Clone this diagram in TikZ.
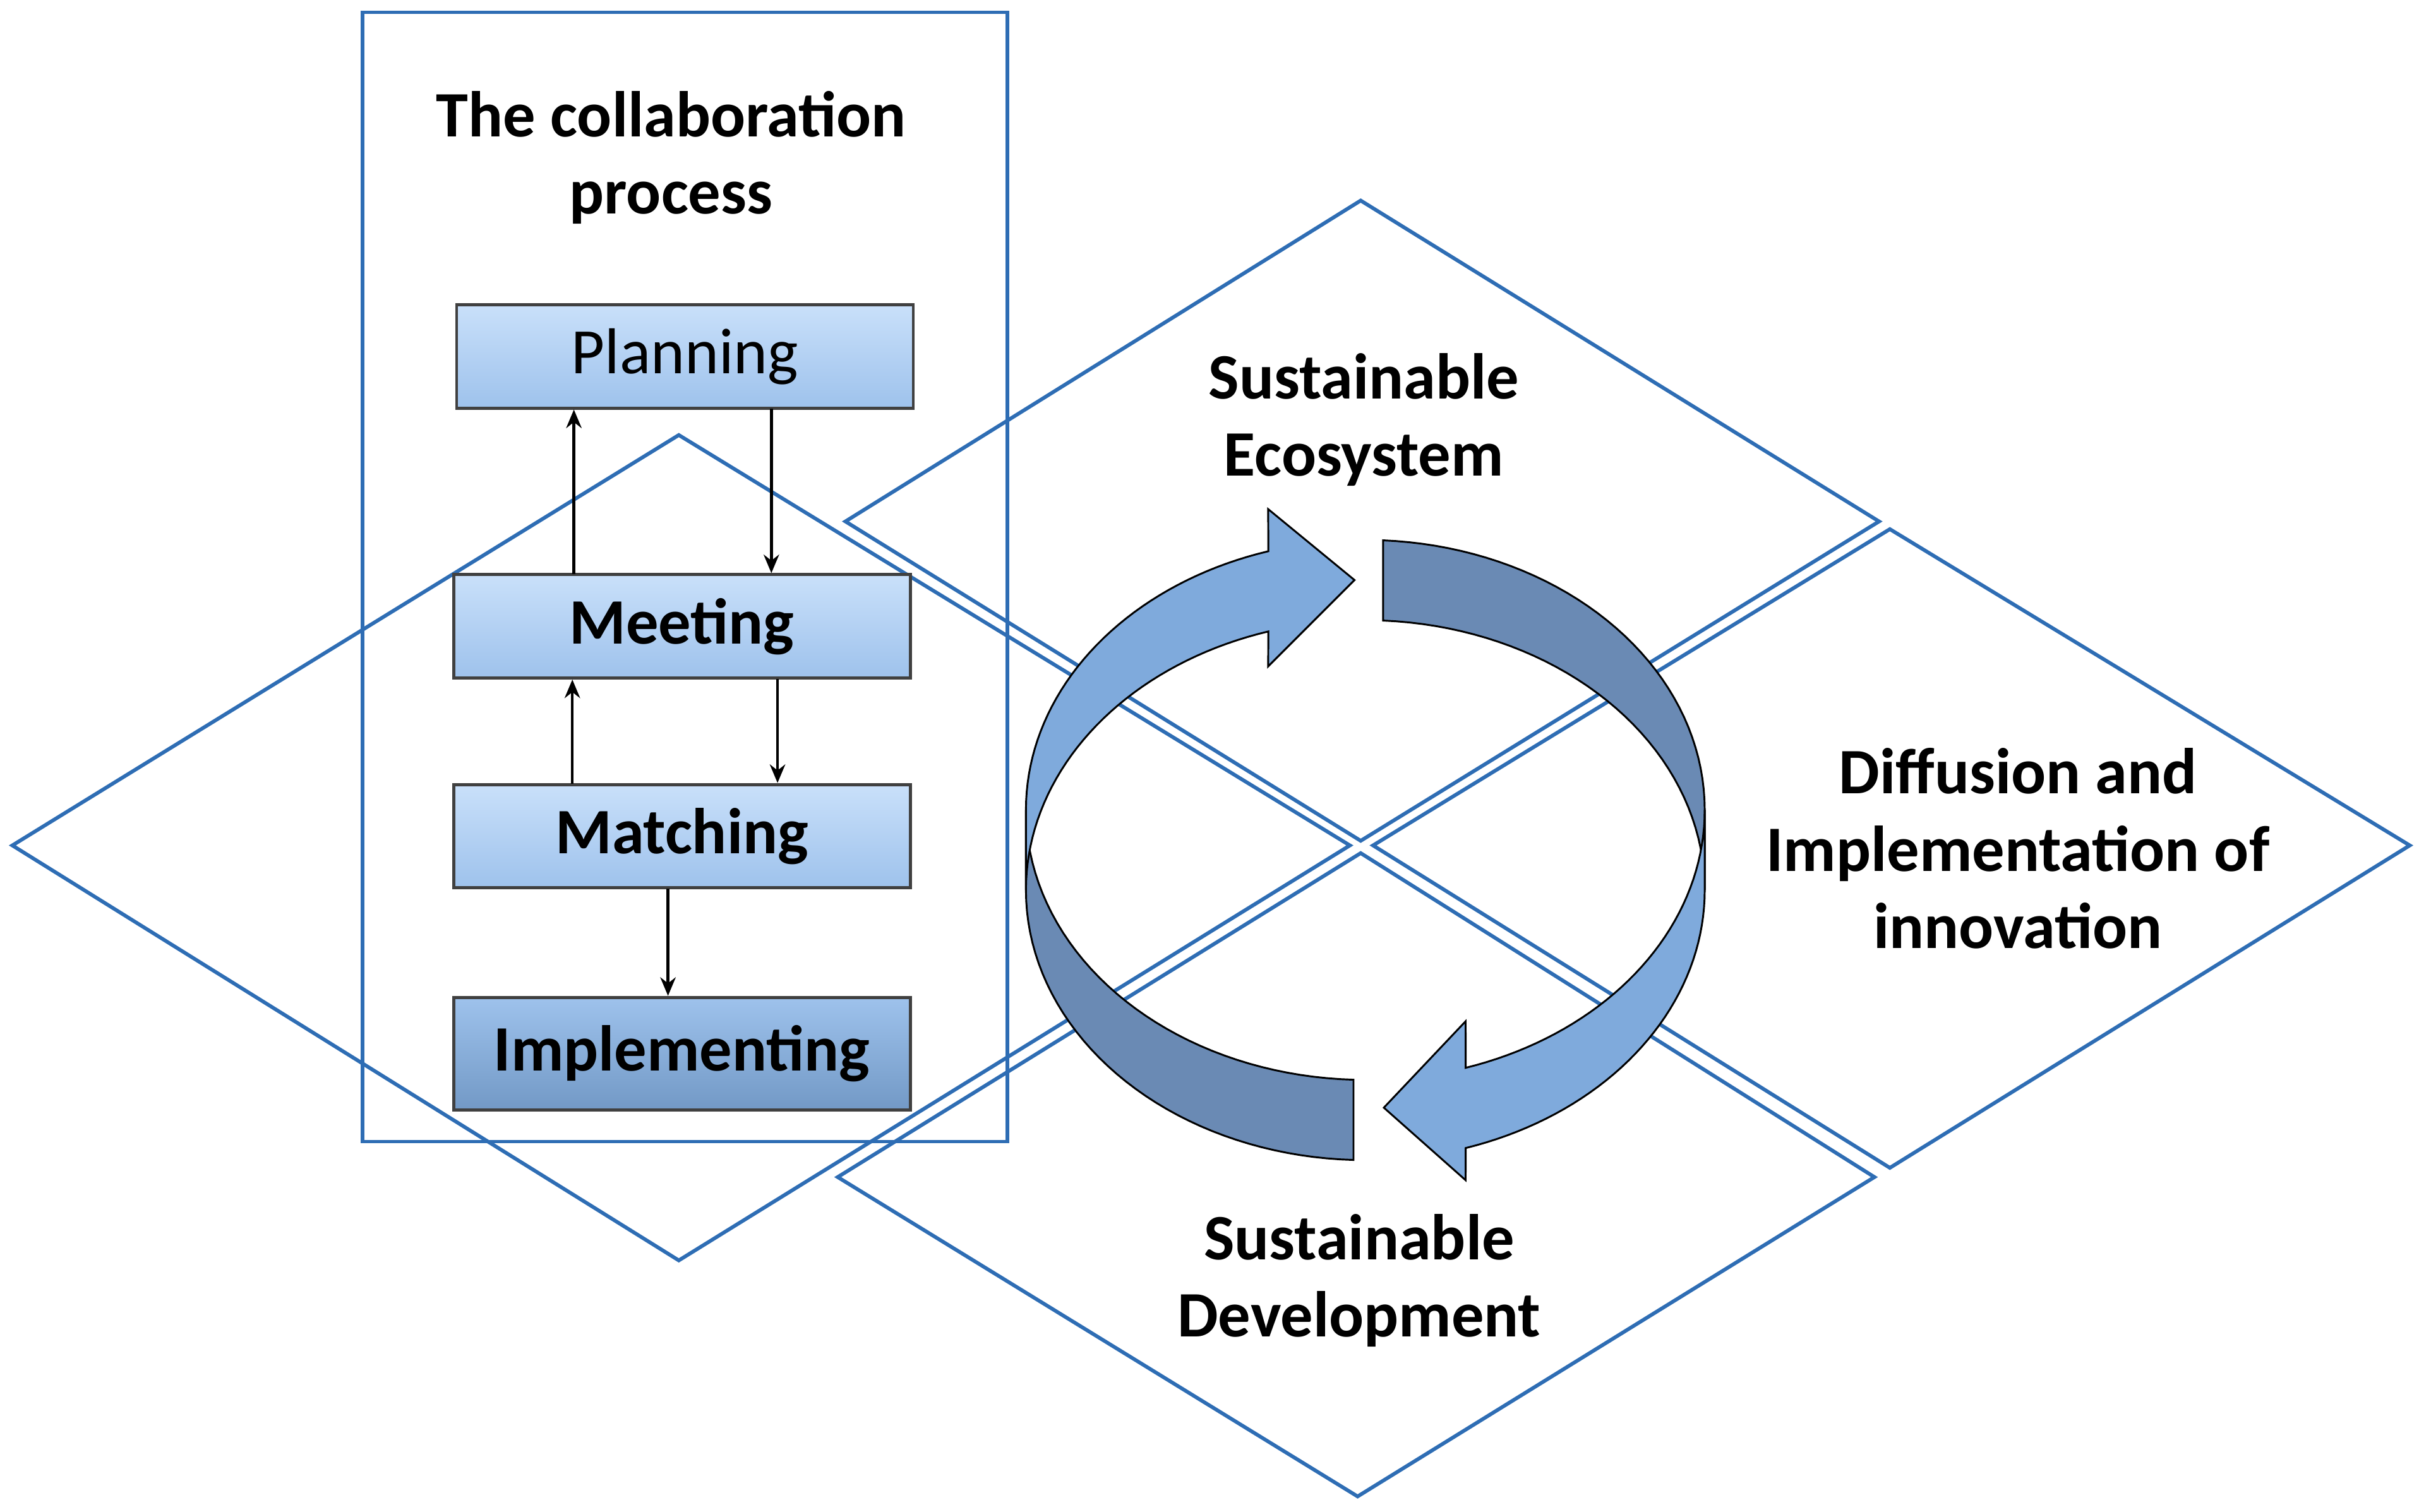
\documentclass[tikz,border=0pt]{standalone}
\usepackage{fontspec}
\setmainfont{Carlito}
\usetikzlibrary{calc,arrows.meta}
\definecolor{dline}{HTML}{2E6DB4}
\definecolor{lightarr}{HTML}{7FAADC}
\definecolor{darkband}{HTML}{6A8AB4}
\definecolor{boxtop}{HTML}{C9E0FA}
\definecolor{boxbot}{HTML}{9EC2EC}
\tikzset{
 dia/.style={draw=dline,line width=1.2pt},
 pbox/.style={draw=black!75,line width=1pt,top color=boxtop,bottom color=boxbot,minimum width=148pt,minimum height=33.5pt,font=\fontsize{21}{24}\selectfont,inner sep=0pt},
 bbox/.style={pbox,font=\bfseries\fontsize{21}{24}\selectfont},
 lab/.style={font=\bfseries\fontsize{21}{25}\selectfont,align=center},
 parr/.style={-{Stealth[length=6pt,width=5pt]},line width=0.9pt},
 ribbon/.style={draw=black,line width=0.6pt}
}
\begin{document}
\begin{tikzpicture}[x=0.5pt,y=-0.5pt]
\useasboundingbox (0,0) rectangle (1568,980);
% diamonds
\draw[dia] (8,548) -- (440,282) -- (875,548) -- (440,817) -- cycle;
\draw[dia] (548,338) -- (882,130) -- (1218,338) -- (882,545) -- cycle;
\draw[dia] (890,548) -- (1225,343) -- (1562,548) -- (1225,757) -- cycle;
\draw[dia] (543,763) -- (882,553) -- (1215,763) -- (880,970) -- cycle;
% frame
\draw[dia] (235,8) rectangle (653,740);
\node[lab] (title) at (435,102) {The collaboration\\process};
% boxes
\node[pbox] (p) at (444,231) {Planning};
\node[bbox] (m) at (442,406) {Meeting};
\node[bbox] (a) at (442,542) {Matching};
\node[bbox,minimum height=36.5pt,top color=boxbot,bottom color=lightarr!90!black] (i) at (442,683) {Implementing};
\coordinate (c1) at (372,372);
\coordinate (c2) at (500,265);
\coordinate (c3) at (371,508);
\coordinate (c4) at (504,440);
\coordinate (c5) at (433,576);
\draw[parr] (c1) -- (c1 |- p.south);
\draw[parr] (c2) -- (c2 |- m.north);
\draw[parr] (c3) -- (c3 |- m.south);
\draw[parr] (c4) -- (c4 |- a.north);
\draw[parr] (c5) -- (c5 |- i.north);
% cycle ribbon
\fill[darkband,ribbon] plot[domain=87:0,samples=40] ({885+220*cos(\x)},{525-175*sin(\x)}) -- plot[domain=0:87,samples=40] ({885+220*cos(\x)},{577-175*sin(\x)}) -- cycle;
\fill[darkband,ribbon] plot[domain=268:180,samples=40] ({885+220*cos(\x)},{525-175*sin(\x)}) -- plot[domain=180:268,samples=40] ({885+220*cos(\x)},{577-175*sin(\x)}) -- cycle;
\fill[lightarr,ribbon] plot[domain=180:106.6,samples=40] ({885+220*cos(\x)},{525-175*sin(\x)}) -- (822,330) -- (878,376) -- (822,432) -- plot[domain=106.6:180,samples=40] ({885+220*cos(\x)},{577-175*sin(\x)}) -- cycle;
\fill[lightarr,ribbon] plot[domain=0:-72.8,samples=40] ({885+220*cos(\x)},{525-175*sin(\x)}) -- (950,662) -- (897,718) -- (950,765) -- plot[domain=-72.8:0,samples=40] ({885+220*cos(\x)},{577-175*sin(\x)}) -- cycle;
% labels
\node[lab] (eco) at (884,272) {Sustainable\\Ecosystem};
\node[lab] (dif) at (1308,550) {Diffusion and\\Implementation of\\innovation};
\node[lab] (dev) at (881,830) {Sustainable\\Development};
\end{tikzpicture}
\end{document}
